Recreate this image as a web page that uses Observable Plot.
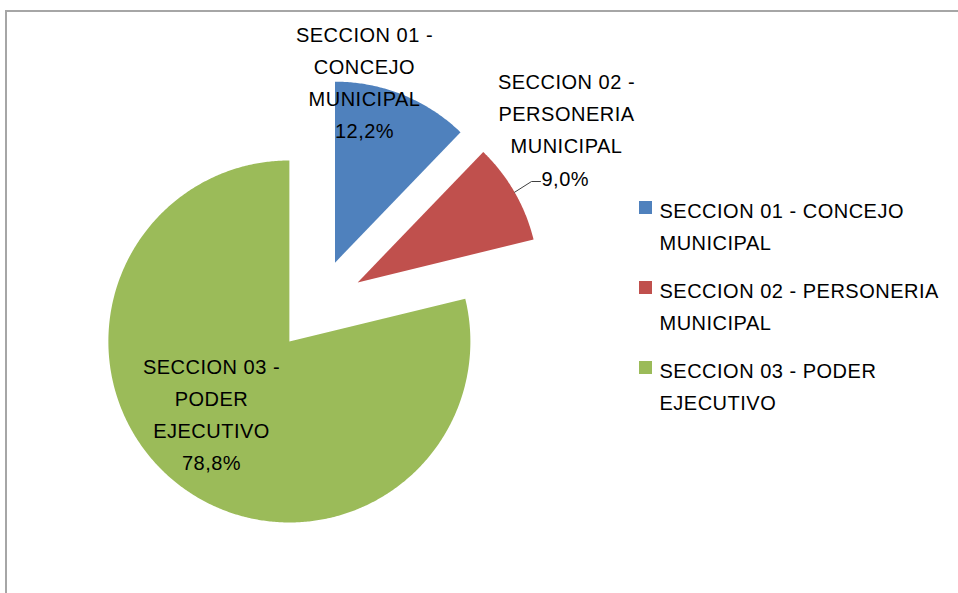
<!DOCTYPE html>
<html><head><meta charset="utf-8">
<script src="https://cdn.jsdelivr.net/npm/d3@7"></script>
<script src="https://cdn.jsdelivr.net/npm/@observablehq/plot@0.6"></script>
<style>
body{margin:0;background:#fff;}
#wrap{position:relative;width:958px;height:593px;overflow:hidden;background:#fff;}
#chart svg{display:block;}
#border{position:absolute;left:5px;top:10px;width:2000px;height:2000px;border-top:2px solid #a6a6a6;border-left:2px solid #a6a6a6;box-sizing:border-box;pointer-events:none;}
</style></head>
<body><div id="wrap"><div id="chart"></div><div id="border"></div></div>
<script>
// ---- data ----
const categories = ["SECCION 01 - CONCEJO MUNICIPAL", "SECCION 02 - PERSONERIA MUNICIPAL", "SECCION 03 - PODER EJECUTIVO"];
const shares = [12.2, 9.0, 78.8];
const percentLabels = ["12,2%", "9,0%", "78,8%"];
const sliceLabelLines = [["SECCION 01 -", "CONCEJO", "MUNICIPAL"], ["SECCION 02 -", "PERSONERIA", "MUNICIPAL"], ["SECCION 03 -", "PODER", "EJECUTIVO"]];
const legendLines = [["SECCION 01 - CONCEJO", "MUNICIPAL"], ["SECCION 02 - PERSONERIA", "MUNICIPAL"], ["SECCION 03 - PODER", "EJECUTIVO"]];
const colors = ["#4f81bd", "#c0504d", "#9bbb59"];

// ---- layout ----
const W = 958, H = 593;
const pie = {cx: 317.3, cy: 304.8, r: 181, explode: 46};
const labelPos = [{x: 364, y: 79}, {x: 566, y: 110}, {x: 211, y: 411}]; // centers of label blocks
const labelStyle = [{withPct: true}, {withPct: false}, {withPct: true}];
const redPct = {x: 541, y: 179, elbowX: 531};
const legend = {x: 639, y0: 201, step: 80, size: 13, textX: 659};
const font = "Liberation Sans, Arial, sans-serif";

// ---- geometry from data ----
const arcs = d3.pie().sort(null).value(d => d)(shares);
const poly = [];
arcs.forEach((a, i) => {
  const mid = (a.startAngle + a.endAngle) / 2;
  const ox = pie.cx + pie.explode * Math.sin(mid);
  const oy = pie.cy - pie.explode * Math.cos(mid);
  poly.push({cat: categories[i], x: ox, y: oy});
  const n = Math.max(4, Math.ceil((a.endAngle - a.startAngle) / (Math.PI / 360)));
  for (let k = 0; k <= n; k++) {
    const t = a.startAngle + (a.endAngle - a.startAngle) * k / n;
    poly.push({cat: categories[i], x: ox + pie.r * Math.sin(t), y: oy - pie.r * Math.cos(t)});
  }
  poly.push({cat: categories[i], x: ox, y: oy});
});

// leader line for slice 2 (from arc midpoint)
const a2 = arcs[1];
const mid2 = (a2.startAngle + a2.endAngle) / 2;
const o2x = pie.cx + pie.explode * Math.sin(mid2), o2y = pie.cy - pie.explode * Math.cos(mid2);
const leader = [
  {x: o2x + pie.r * Math.sin(mid2), y: o2y - pie.r * Math.cos(mid2)},
  {x: redPct.elbowX, y: redPct.y + 2},
  {x: redPct.x - 1, y: redPct.y + 2}
];

const sliceLabels = categories.map((c, i) => ({
  text: labelStyle[i].withPct ? sliceLabelLines[i].concat([percentLabels[i]]).join("\n") : sliceLabelLines[i].join("\n"),
  x: labelPos[i].x, y: labelPos[i].y
}));

const legendRows = categories.map((c, i) => ({
  cat: c, text: legendLines[i].join("\n"),
  x1: legend.x, x2: legend.x + legend.size,
  y1: legend.y0 + i * legend.step, y2: legend.y0 + i * legend.step + legend.size,
  tx: legend.textX, ty: legend.y0 + i * legend.step + 22
}));

const chart = Plot.plot({
  width: W, height: H, margin: 0,
  x: {domain: [0, W], range: [0, W], axis: null},
  y: {domain: [0, H], range: [0, H], axis: null},
  color: {domain: categories, range: colors},
  style: {fontFamily: font, letterSpacing: "0.5px", background: "#fff"},
  marks: [
    Plot.line(poly, {x: "x", y: "y", z: "cat", fill: "cat", stroke: null, curve: "linear"}),
    Plot.line(leader, {x: "x", y: "y", stroke: "#404040", strokeWidth: 1}),
    Plot.text(sliceLabels, {x: "x", y: "y", text: "text", fontSize: 20, lineHeight: 1.6, lineAnchor: "middle", textAnchor: "middle", fill: "#000"}),
    Plot.text([percentLabels[1]], {x: () => redPct.x, y: () => redPct.y, text: d => d, fontSize: 20, textAnchor: "start", fill: "#000"}),
    Plot.rect(legendRows, {x1: "x1", x2: "x2", y1: "y1", y2: "y2", fill: "cat"}),
    Plot.text(legendRows, {x: "tx", y: "ty", text: "text", fontSize: 20, lineHeight: 1.6, lineAnchor: "middle", textAnchor: "start", fill: "#000"})
  ]
});
document.getElementById("chart").appendChild(chart);
</script>
</body></html>
